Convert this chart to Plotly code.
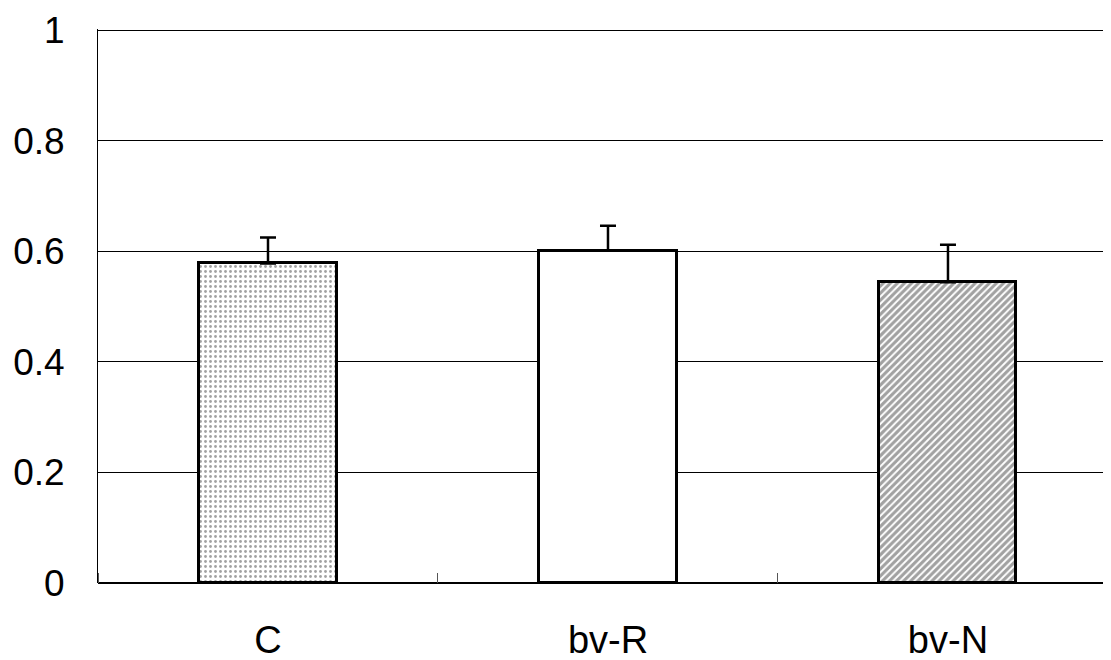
import plotly.graph_objects as go

categories = ["C", "bv-R", "bv-N"]
values = [0.578, 0.601, 0.544]
errors_up = [0.047, 0.045, 0.068]
y_ticks = [0, 0.2, 0.4, 0.6, 0.8, 1]
y_ticktext = ["0", "0.2", "0.4", "0.6", "0.8", "1"]

x_pos = list(range(len(categories)))

fig = go.Figure()
fig.add_trace(go.Bar(
    x=x_pos,
    y=values,
    width=0.403,
    marker=dict(
        color=["white", "white", "white"],
        line=dict(color="black", width=3),
        pattern=dict(
            shape=[".", "", "/"],
            fgcolor=["#333333", "black", "black"],
            bgcolor=["white", "white", "white"],
            size=[5, 8, 5],
            solidity=[0.25, 0.2, 0.62],
            fillmode="overlay",
        ),
    ),
    error_y=dict(
        type="data",
        symmetric=False,
        array=errors_up,
        arrayminus=[0, 0, 0],
        color="black",
        thickness=2.5,
        width=8,
    ),
    showlegend=False,
))

# page body has an 8px offset, margins compensate for it
fig.update_layout(
    width=1111,
    height=660,
    margin=dict(l=90, r=0, t=21, b=85),
    paper_bgcolor="white",
    plot_bgcolor="white",
    font=dict(family="Liberation Sans, Arial, sans-serif", color="black"),
    bargap=0,
)

fig.update_xaxes(
    range=[-0.5, 2.503],
    tickvals=x_pos,
    ticktext=categories,
    ticks="",
    tickfont=dict(size=38),
    ticklabelstandoff=31,
    automargin=False,
    showgrid=False,
    showline=False,
    zeroline=False,
    minor=dict(tick0=0.5, dtick=1, ticks="inside", ticklen=10, tickcolor="#555555", tickwidth=1, showgrid=False),
)

fig.update_yaxes(
    range=[0, 1.002],
    tickvals=y_ticks,
    ticktext=y_ticktext,
    ticks="",
    tickfont=dict(size=37),
    ticklabelstandoff=25,
    automargin=False,
    showgrid=True,
    gridcolor="black",
    gridwidth=1,
    showline=True,
    linecolor="black",
    linewidth=1,
    zeroline=True,
    zerolinecolor="black",
    zerolinewidth=1.5,
)

fig.write_html("out.html")
